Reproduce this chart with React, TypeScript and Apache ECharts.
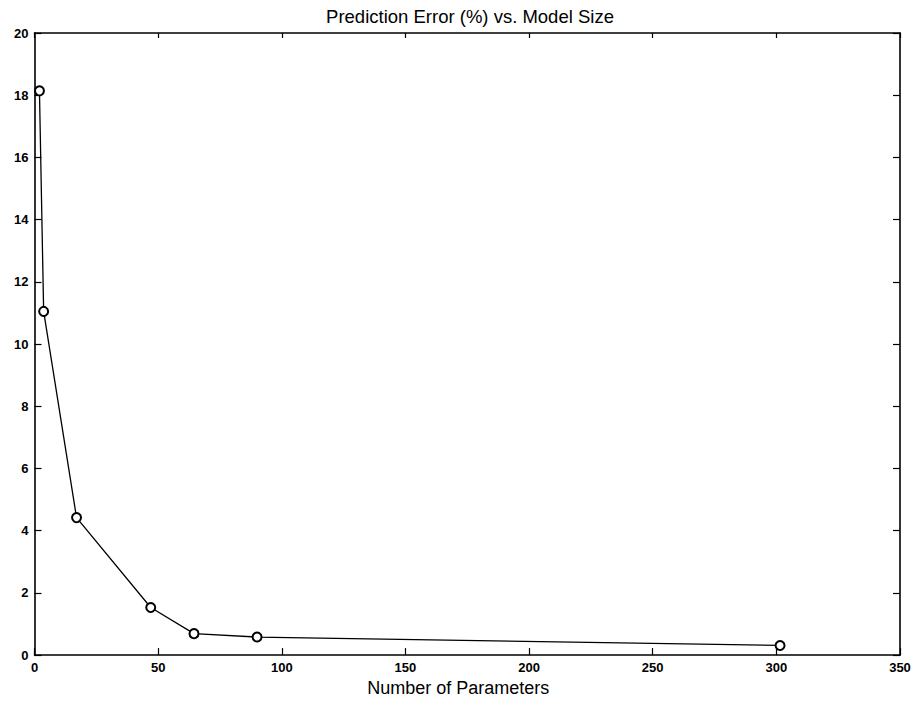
import React, { useEffect, useRef } from "react";
import * as echarts from "echarts";

const paramCounts = [2, 3.7, 17, 47, 64.5, 90, 301.5];
const errorPct = [18.14, 11.05, 4.42, 1.53, 0.69, 0.58, 0.31];
const titleText = "Prediction Error (%) vs. Model Size";
const xName = "Number of Parameters";

export default function App() {
  const ref = useRef<HTMLDivElement>(null);
  useEffect(() => {
    if (!ref.current) return;
    const chart = echarts.init(ref.current, null, { renderer: "svg" });
    const font = "'Liberation Sans', Arial, Helvetica, sans-serif";
    const axisLine = { show: true, onZero: false, lineStyle: { color: "#000", width: 1.6 } };
    const tickIn = { show: true, inside: true, length: 7, lineStyle: { color: "#000", width: 1.2 } };
    const label = { color: "#000", fontFamily: font, fontSize: 13, fontWeight: "bold" as const };
    chart.setOption({
      animation: false,
      backgroundColor: "#fff",
      title: {
        text: titleText,
        left: 465,
        textAlign: "center",
        top: 2,
        textStyle: { fontFamily: font, fontSize: 18.5, fontWeight: "normal", color: "#000" },
      },
      grid: { left: 34.5, right: 16, top: 33, bottom: 45, containLabel: false },
      xAxis: [
        {
          type: "value",
          min: 0,
          max: 350,
          interval: 50,
          position: "bottom",
          axisLine,
          axisTick: tickIn,
          splitLine: { show: false },
          axisLabel: { ...label, margin: 6 },
          name: xName,
          nameLocation: "middle",
          nameGap: 13,
          nameTextStyle: {
            fontFamily: font,
            fontSize: 18,
            color: "#000",
            verticalAlign: "top",
            padding: [0, 18, 0, 0],
          },
        },
        {
          type: "value",
          min: 0,
          max: 350,
          interval: 50,
          position: "top",
          axisLine,
          axisTick: { ...tickIn, length: 5 },
          splitLine: { show: false },
          axisLabel: { show: false },
        },
      ],
      yAxis: [
        {
          type: "value",
          min: 0,
          max: 20,
          interval: 2,
          position: "left",
          axisLine,
          axisTick: tickIn,
          splitLine: { show: false },
          axisLabel: { ...label, margin: 6 },
        },
        {
          type: "value",
          min: 0,
          max: 20,
          interval: 2,
          position: "right",
          axisLine,
          axisTick: tickIn,
          splitLine: { show: false },
          axisLabel: { show: false },
        },
      ],
      series: [
        {
          type: "line",
          xAxisIndex: 0,
          yAxisIndex: 0,
          data: paramCounts.map((x, i) => [x, errorPct[i]]),
          symbol: "emptyCircle",
          symbolSize: 9,
          lineStyle: { color: "#000", width: 1.3 },
          itemStyle: { color: "#000", borderColor: "#000", borderWidth: 1.3 },
        },
      ],
    });
    return () => chart.dispose();
  }, []);
  return <div ref={ref} style={{ width: 916, height: 702, position: "absolute", left: 0, top: 0 }} />;
}
